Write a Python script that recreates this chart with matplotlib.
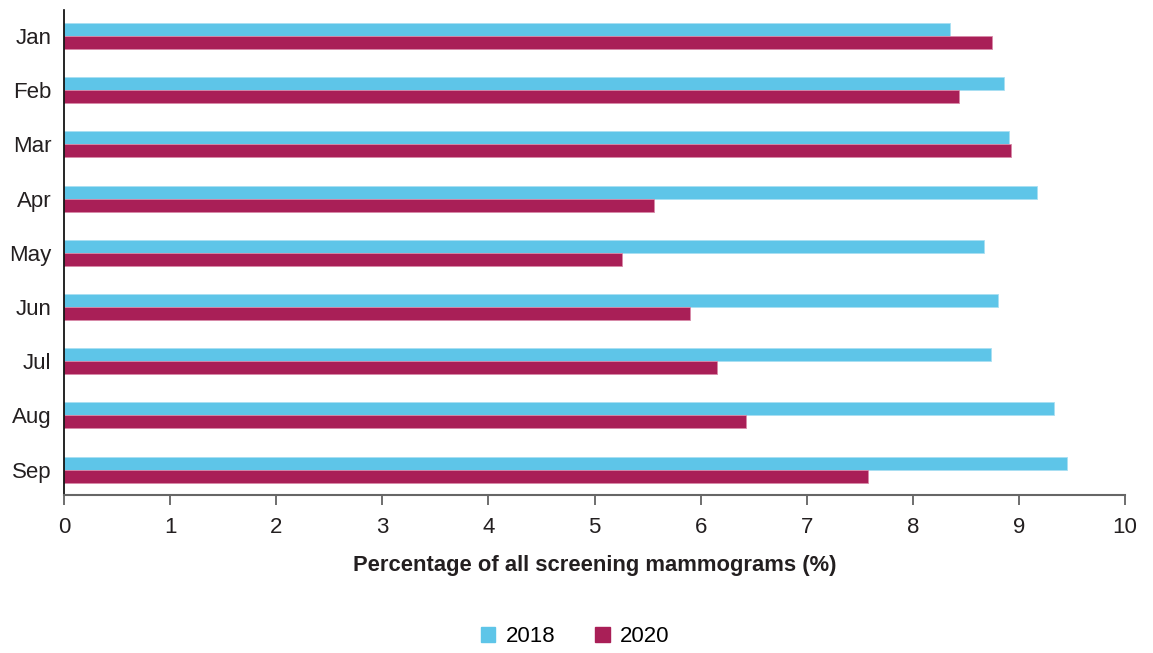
import numpy as np
import matplotlib.pyplot as plt
from matplotlib.patches import Patch

plt.rcParams['font.family'] = ['Liberation Sans', 'DejaVu Sans']

color_2018 = '#5ec5e8'
color_2020 = '#a91f57'

# Data
months = ['Jan', 'Feb', 'Mar', 'Apr', 'May', 'Jun', 'Jul', 'Aug', 'Sep']
pct_2018 = [8.35, 8.86, 8.91, 9.17, 8.67, 8.80, 8.74, 9.33, 9.45]
pct_2020 = [8.75, 8.44, 8.93, 5.56, 5.26, 5.90, 6.15, 6.43, 7.58]

fig = plt.figure(figsize=(11.53, 6.53), dpi=100)
ax = fig.add_axes([64 / 1153, 1 - 495 / 653, (1125 - 64) / 1153, (495 - 10) / 653])

y = np.arange(len(months))
h = 0.24
ax.barh(y - h / 2, pct_2018, height=h, color=color_2018, edgecolor='#a9dff2', linewidth=0.6)
ax.barh(y + h / 2, pct_2020, height=h, color=color_2020, edgecolor='#d88aa8', linewidth=0.6)

ax.set_xlim(0, 10)
ax.set_ylim(len(months) - 1 + 0.47, -0.48)
ax.set_yticks(y)
ax.set_yticklabels(months, fontsize=16, color='#231f20')
ax.set_xticks(range(0, 11))
ax.tick_params(axis='x', labelsize=16, colors='#231f20', length=7, width=1.2, pad=9, color='#555555')
ax.tick_params(axis='y', length=0, pad=9)

ax.spines['top'].set_visible(False)
ax.spines['right'].set_visible(False)
ax.spines['left'].set_color('black')
ax.spines['left'].set_linewidth(1.2)
ax.spines['bottom'].set_color('#666666')
ax.spines['bottom'].set_linewidth(1.5)

ax.set_xlabel('Percentage of all screening mammograms (%)', fontsize=15.8, fontweight='bold',
              color='#231f20', labelpad=12)

handles = [Patch(color=color_2018, label='2018'), Patch(color=color_2020, label='2020')]
fig.legend(handles=handles, loc='center', bbox_to_anchor=(575 / 1153, 1 - 637 / 653), ncol=2,
           frameon=False, fontsize=16, handlelength=0.65, handleheight=0.65, handletextpad=0.45,
           columnspacing=1.8)

fig.savefig('out.png', dpi=100)
